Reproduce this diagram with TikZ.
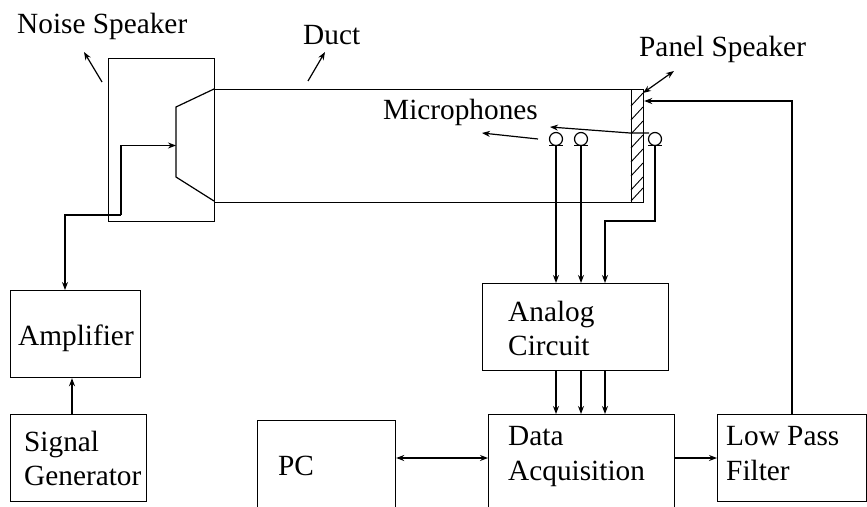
\documentclass[tikz,border=0pt]{standalone}
\usepackage{fontspec}
\setmainfont{Liberation Serif}
\usetikzlibrary{arrows.meta,calc}
\tikzset{
  every picture/.style={x=1pt,y=-1pt},
  ln/.style={line width=1.2pt,black},
  arr/.style={ln,-{Stealth[length=8pt,width=6pt]}},
  biarr/.style={ln,{Stealth[length=8pt,width=6pt]}-{Stealth[length=8pt,width=6pt]}},
  blockbox/.style={draw,line width=1.2pt,rectangle,inner sep=0pt,anchor=north west},
  lab/.style={anchor=base west,inner sep=0pt,font=\fontsize{29.3}{33}\selectfont},
  mic/.style={circle,draw,line width=1.2pt,minimum size=13pt,inner sep=0pt}
}
\begin{document}
\begin{tikzpicture}
\useasboundingbox (0,0) rectangle (867,506);
\clip (0,0) rectangle (867,506);
% blocks
\node[blockbox,minimum width=106pt,minimum height=163pt] (ns) at (108,58) {};
\node[blockbox,minimum width=429pt,minimum height=112.5pt] (duct) at (214,89) {};
\node[blockbox,minimum width=12pt,minimum height=112.5pt] (panel) at (631,89) {};
\node[blockbox,minimum width=130pt,minimum height=87pt] (amp) at (10,290) {};
\node[blockbox,minimum width=136pt,minimum height=87pt] (sig) at (10,414) {};
\node[blockbox,minimum width=138pt,minimum height=120pt] (pc) at (257,420) {};
\node[blockbox,minimum width=186pt,minimum height=87pt] (ana) at (482,283) {};
\node[blockbox,minimum width=186pt,minimum height=120pt] (daq) at (488,414) {};
\node[blockbox,minimum width=149pt,minimum height=87pt] (lpf) at (717,414) {};
% speaker cone
\draw[ln] (214,89) -- (176,107) -- (176,177) -- (214,201);
\coordinate (cone) at (176,145.5);
% hatch
\foreach \y in {106,120,134,148,162,176,190,201}
  \draw[line width=0.9pt] (631,\y) -- (643,\y-13);
% microphones
\node[mic] (m1) at (556,139) {};
\node[mic] (m2) at (581,139) {};
\node[mic] (m3) at (655,139) {};
\foreach \m in {m1,m2,m3}
  \draw[ln] ($(\m)+(-7,6.5)$) -- ($(\m)+(7,6.5)$);
% wiring
\coordinate (w1) at (65,215);
\coordinate (w2) at (121,215);
\coordinate (w3) at (121,145.5);
\draw[arr] (w2) -- (w3) -- (cone);
\draw[arr] (w2) -- (w1) -- (amp.north -| w1);
\coordinate (s) at (72,400);
\draw[arr] (sig.north -| s) -- (amp.south -| s);
\draw[arr] (m1.south) -- (ana.north -| m1);
\draw[arr] (m2.south) -- (ana.north -| m2);
\coordinate (m3b) at (605,221);
\draw[arr] (m3.south) |- (m3b) -- (ana.north -| m3b);
\draw[arr] (ana.south -| m1) -- (daq.north -| m1);
\draw[arr] (ana.south -| m2) -- (daq.north -| m2);
\draw[arr] (ana.south -| m3b) -- (daq.north -| m3b);
\coordinate (row) at (0,458);
\draw[biarr] (pc.east |- row) -- (daq.west |- row);
\draw[arr] (daq.east |- row) -- (lpf.west |- row);
\coordinate (fb) at (792,101);
\draw[arr] (lpf.north -| fb) -- (fb) -- (panel.east |- fb);
% pointer arrows
\coordinate (p1s) at (102,82); \coordinate (p1e) at (84,52);
\draw[arr] (p1s) -- (p1e);
\coordinate (p2s) at (308,81); \coordinate (p2e) at (325,52);
\draw[arr] (p2s) -- (p2e);
\coordinate (p3s) at (643,93); \coordinate (p3e) at (674,71);
\draw[biarr] (p3s) -- (p3e);
\coordinate (p4s) at (649,133); \coordinate (p4m) at (630,133); \coordinate (p4e) at (550,127);
\draw[arr] (p4s) -- (p4m) -- (p4e);
\coordinate (p5s) at (538,139); \coordinate (p5e) at (482,133);
\draw[arr] (p5s) -- (p5e);
% labels
\node[lab] (tns) at (17,33) {Noise Speaker};
\node[lab] (tduct) at (303,44) {Duct};
\node[lab] (tps) at (639,56) {Panel Speaker};
\node[lab] (tmic) at (383,119) {Microphones};
\node[lab] (tamp) at (18,345) {Amplifier};
\node[lab] (tsig) at (24,451) {Signal};
\node[lab] (tgen) at (24,485) {Generator};
\node[lab] (tpc) at (278,475) {PC};
\node[lab] (tana) at (508,321) {Analog};
\node[lab] (tcir) at (508,355) {Circuit};
\node[lab] (tdat) at (508,445) {Data};
\node[lab] (tacq) at (508,480) {Acquisition};
\node[lab] (tlow) at (726,445) {Low Pass};
\node[lab] (tfil) at (726,480) {Filter};
\end{tikzpicture}
\end{document}
